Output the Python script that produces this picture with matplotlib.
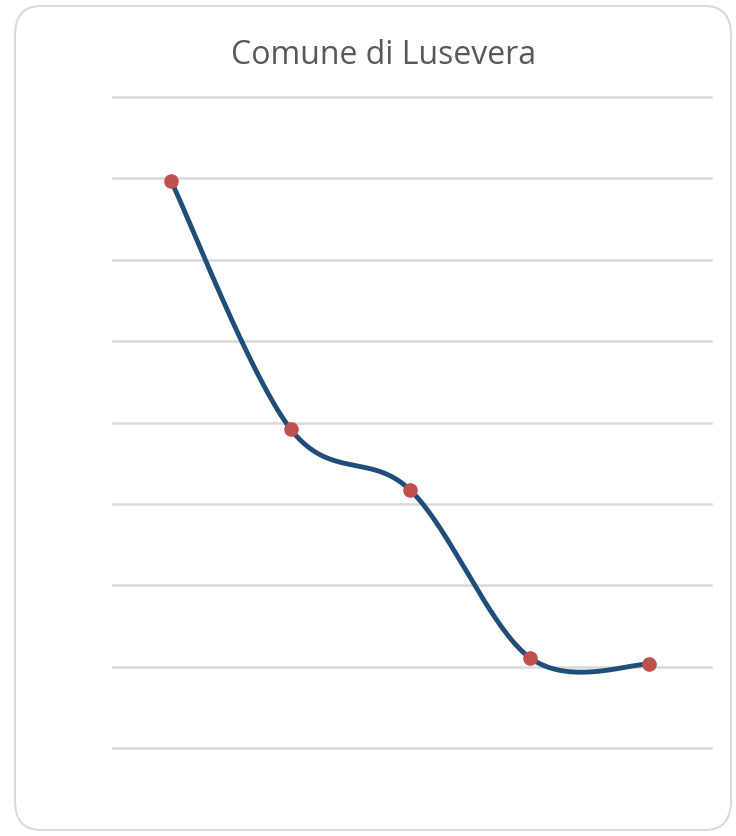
import numpy as np
import matplotlib
matplotlib.use("Agg")
import matplotlib.pyplot as plt
from matplotlib.patches import FancyBboxPatch

# Data (arbitrary units, no axis labels shown)
categories = ["1", "2", "3", "4", "5"]
values = [6.97, 3.92, 3.17, 1.11, 1.03]
title = "Comune di Lusevera"


def smooth_curve(xs, ys, n=40):
    # Catmull-Rom style smoothing, like Excel's smoothed line
    xs = np.asarray(xs, float)
    ys = np.asarray(ys, float)
    px = np.concatenate([[xs[0]], xs, [xs[-1]]])
    py = np.concatenate([[ys[0]], ys, [ys[-1]]])
    outx, outy = [], []
    for i in range(1, len(px) - 2):
        p0 = np.array([px[i - 1], py[i - 1]])
        p1 = np.array([px[i], py[i]])
        p2 = np.array([px[i + 1], py[i + 1]])
        p3 = np.array([px[i + 2], py[i + 2]])
        c1 = p1 + (p2 - p0) / 6
        c2 = p2 - (p3 - p1) / 6
        t = np.linspace(0, 1, n)[:, None]
        b = ((1 - t) ** 3) * p1 + 3 * ((1 - t) ** 2) * t * c1 + 3 * (1 - t) * t ** 2 * c2 + t ** 3 * p2
        outx.extend(b[:, 0])
        outy.extend(b[:, 1])
    return outx, outy


fig = plt.figure(figsize=(7.36, 8.36), dpi=100)
fig.patch.set_facecolor("white")

# rounded chart border
border = FancyBboxPatch((15 / 736, 6 / 836), 716 / 736, 824 / 836,
                        boxstyle="round,pad=0,rounding_size=0.035",
                        transform=fig.transFigure, facecolor="none",
                        edgecolor="#d9d9d9", linewidth=1.5, zorder=-1)
fig.patches.append(border)

ax = fig.add_axes([113 / 736, (836 - 748) / 836, 598 / 736, 651 / 836])
ax.set_facecolor("none")

x = np.arange(len(values))
sx, sy = smooth_curve(x, values)
ax.plot(sx, sy, color="#1f4e79", linewidth=3.5, solid_capstyle="round", zorder=3)
ax.plot(x, values, linestyle="none", marker="o", markersize=9.5,
        color="#c0504d", markeredgecolor="#c0504d", zorder=4)

ax.set_xlim(-0.485, len(values) - 0.485)
ax.set_ylim(0, 8)
ax.set_yticks(np.arange(0, 9, 1))
ax.yaxis.grid(True, color="#d9d9d9", linewidth=1.8)
for gl in ax.get_ygridlines():
    gl.set_clip_on(False)
ax.tick_params(left=False, bottom=False, labelleft=False, labelbottom=False)
for s in ax.spines.values():
    s.set_visible(False)

fig.text(384 / 736, 1 - 55 / 836, title, ha="center", va="center",
         fontsize=23, color="#595959", family=["Open Sans", "DejaVu Sans"])

fig.savefig("out.png", dpi=100)
